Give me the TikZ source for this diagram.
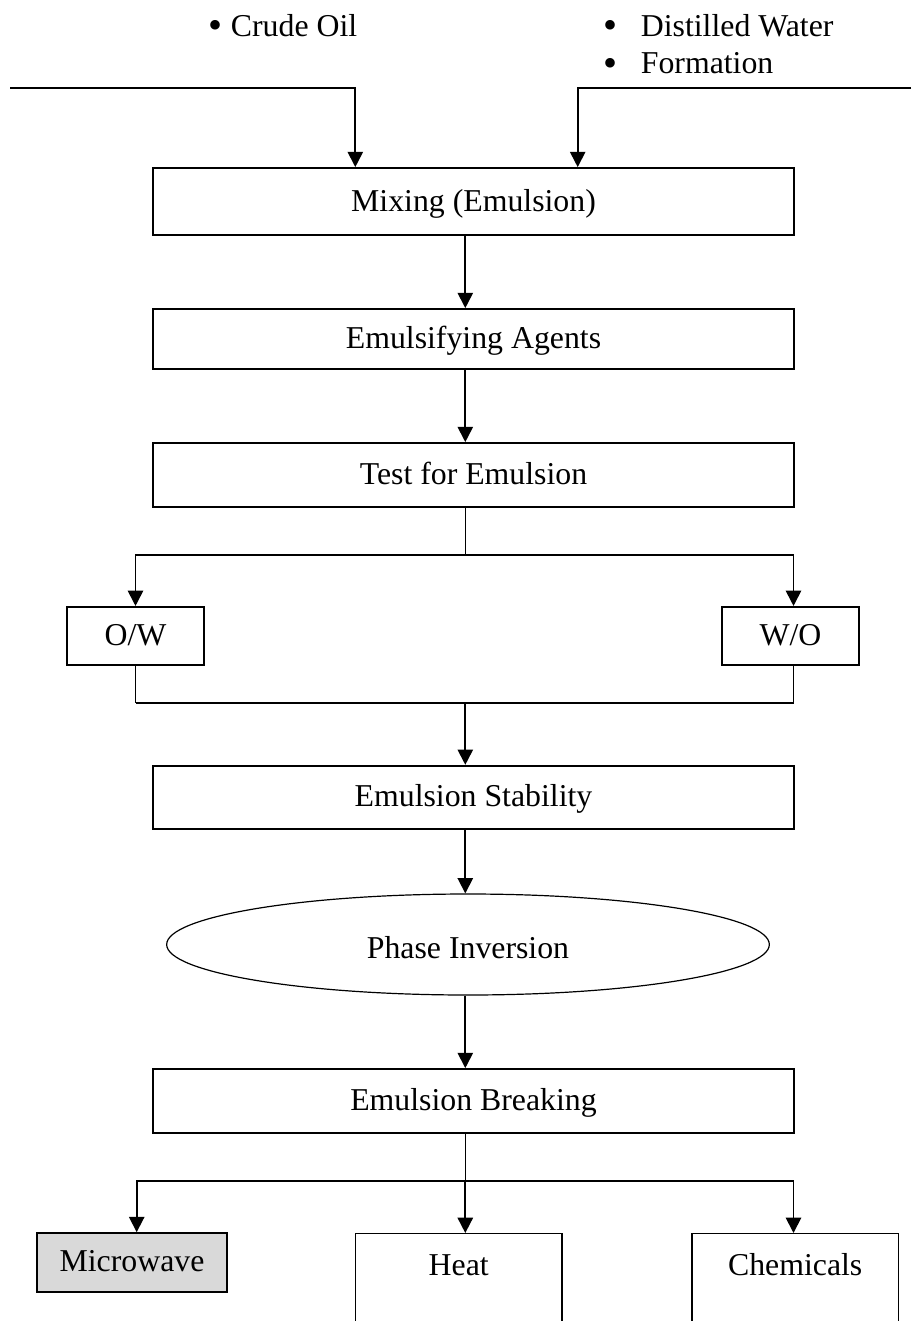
\documentclass[tikz,border=0pt]{standalone}
\usepackage{fontspec}
\setmainfont{Liberation Serif}
\usetikzlibrary{arrows.meta,shapes.geometric}
\newcommand{\bigbul}{\raisebox{-2.2pt}{\fontsize{30pt}{30pt}\selectfont •}}
\begin{document}
\begin{tikzpicture}[x=0.75pt,y=-0.75pt,
  txt/.style={font=\fontsize{23.85pt}{28pt}\selectfont,inner sep=0pt},
  flowbox/.style={txt,draw,line width=1.35pt,rectangle,minimum width=480.75pt,
    text height=17.9pt,text depth=3.6pt},
  smallbox/.style={flowbox,minimum width=103.2pt,minimum height=43.7pt},
  openbox/.style={txt,draw,line width=1pt,rectangle,anchor=north,inner ysep=0pt,
    text height=31pt,text depth=160pt},
  oval/.style={txt,draw,line width=0.9pt,ellipse,minimum width=452pt,minimum height=75.75pt,
    text height=17.9pt,text depth=3.6pt},
  arr/.style={line width=1.35pt,-{Triangle[length=11.5pt,width=11.5pt]}},
  thickln/.style={line width=1.35pt},
  thinln/.style={line width=0.8pt}]
\useasboundingbox (0,0) rectangle (911,1321);
\clip (0,0) rectangle (911,1321);

% input labels
\node[txt,anchor=base west] (crude) at (208,36) {\bigbul\hspace{6.5pt}Crude Oil};
\node[txt,anchor=base west] (water) at (603,36) {\bigbul\hspace{17.7pt}Distilled Water};
\node[txt,anchor=base west] (form) at (603,73.5) {\bigbul\hspace{17.7pt}Formation};

% main column
\node[flowbox,minimum height=50.25pt] (mix) at (473.5,201.5) {Mixing (Emulsion)};
\node[flowbox,minimum height=45pt] (agent) at (473.5,339) {Emulsifying Agents};
\node[flowbox,minimum height=48pt] (test) at (473.5,475) {Test for Emulsion};
\node[smallbox] (ow) at (135.5,636) {O/W};
\node[smallbox] (wo) at (790.5,636) {W/O};
\node[flowbox,minimum height=47.5pt] (stab) at (473.5,797.4) {Emulsion Stability};
\node[oval] (inv) at (468,944.5) {\raisebox{-3pt}{Phase Inversion}};
\node[flowbox,minimum height=48pt] (brk) at (473.5,1101) {Emulsion Breaking};
\node[flowbox,minimum width=143pt,minimum height=44pt,fill=gray!30] (mw) at (132,1262.4) {Microwave};
\node[openbox,minimum width=155pt] (heat) at (458.7,1233) {Heat};
\node[openbox,minimum width=154.7pt] (chem) at (795.2,1233) {Chemicals};

% helper coordinates
\coordinate (ax) at (465.3,0);
\coordinate (lx) at (355.3,0);
\coordinate (rx) at (577.7,0);
\coordinate (rcol) at (793.5,0);
\coordinate (mwx) at (136.7,0);
\coordinate (l0) at (10,88);
\coordinate (r0) at (911,88);
\coordinate (tb) at (465.3,555);
\coordinate (mg) at (465.3,703);
\coordinate (bb) at (465.3,1181);

% inputs
\draw[arr] (l0) -| (mix.north -| lx);
\draw[arr] (r0) -| (mix.north -| rx);

% main flow
\draw[arr] (mix.south -| ax) -- (agent.north -| ax);
\draw[arr] (agent.south -| ax) -- (test.north -| ax);
\draw[thinln] (test.south -| ax) -- (tb);
\draw[arr] (tb) -| (ow.north);
\draw[arr] (tb) -| (wo.north -| rcol);
\draw[thinln] (ow.south) -- (ow.south |- mg);
\draw[thinln] (wo.south -| rcol) -- (rcol |- mg);
\draw[thickln] (ow.south |- mg) -- (rcol |- mg);
\draw[arr] (mg) -- (stab.north -| ax);
\draw[arr] (stab.south -| ax) -- (inv.north -| ax);
\draw[arr] (inv.south -| ax) -- (brk.north -| ax);
\draw[thinln] (brk.south -| ax) -- (bb);
\draw[arr] (bb) -- (heat.north -| ax);
\draw[arr] (bb) -| (mw.north -| mwx);
\draw[arr] (bb) -| (chem.north -| rcol);
\end{tikzpicture}
\end{document}
